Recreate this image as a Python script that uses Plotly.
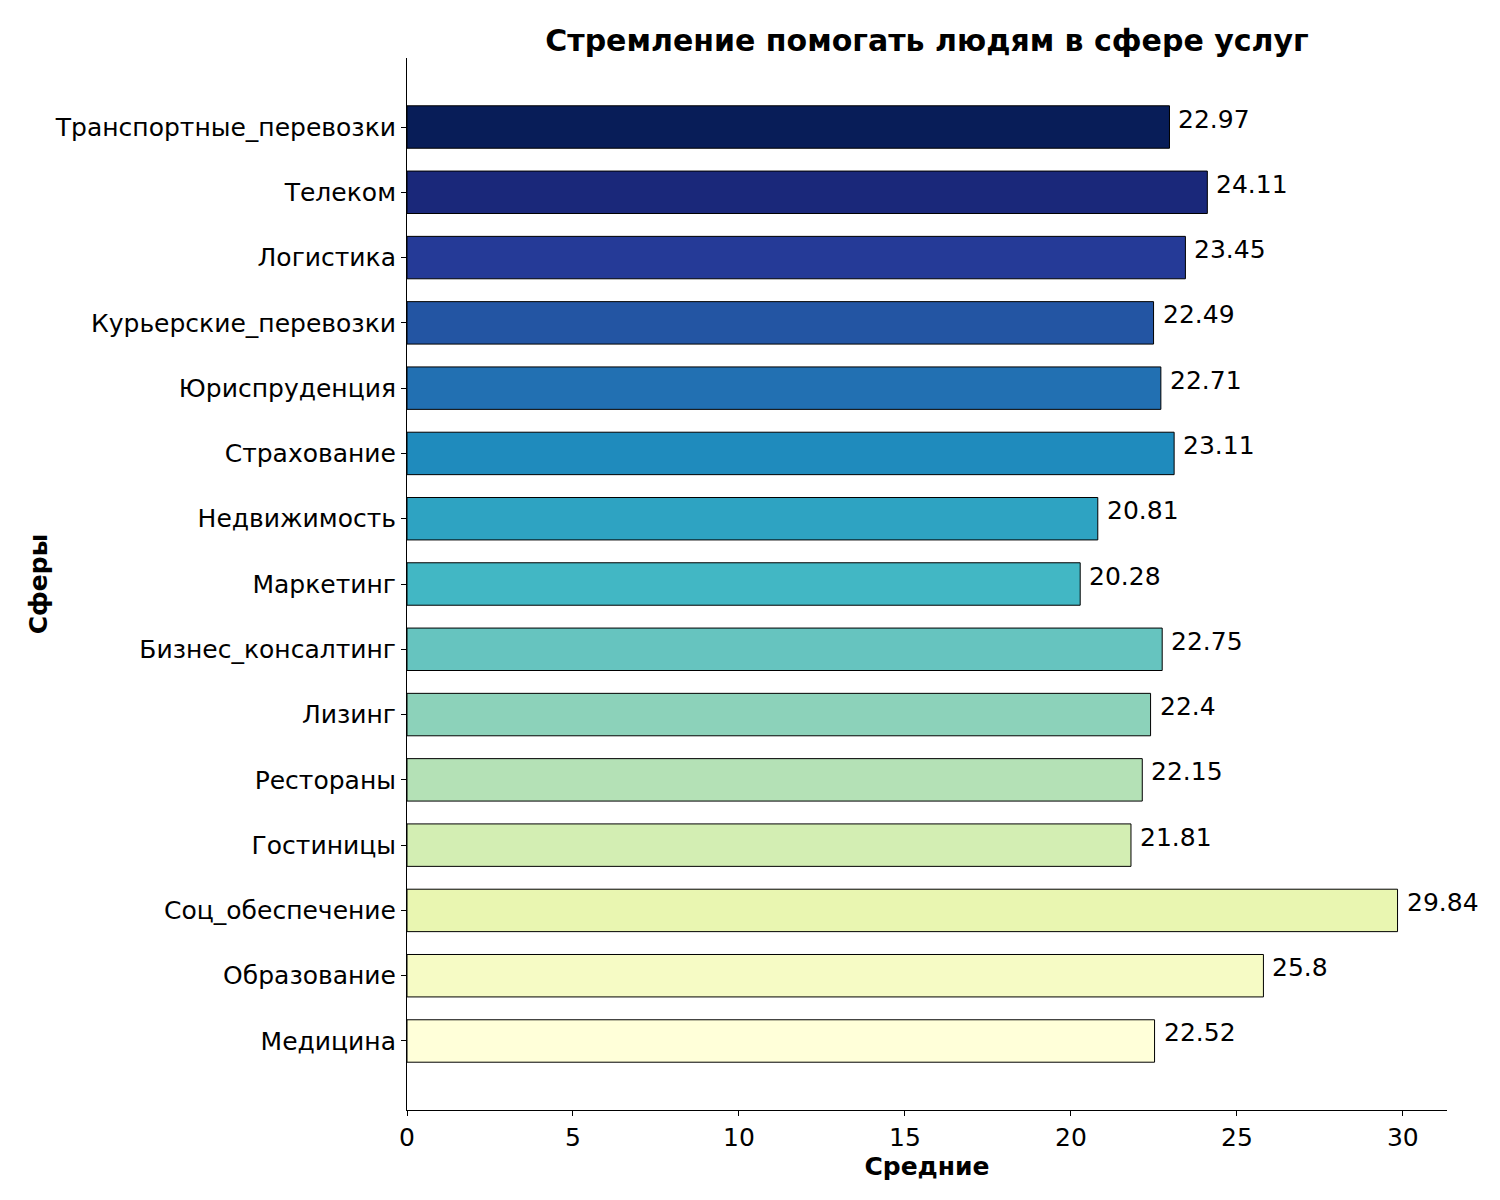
import plotly.graph_objects as go

# data (bottom -> top, as drawn)
spheres = ['Медицина', 'Образование', 'Соц_обеспечение', 'Гостиницы', 'Рестораны',
           'Лизинг', 'Бизнес_консалтинг', 'Маркетинг', 'Недвижимость', 'Страхование',
           'Юриспруденция', 'Курьерские_перевозки', 'Логистика', 'Телеком',
           'Транспортные_перевозки']
means = [22.52, 25.8, 29.84, 21.81, 22.15, 22.4, 22.75, 20.28, 20.81, 23.11,
         22.71, 22.49, 23.45, 24.11, 22.97]
labels = ['22.52', '25.8', '29.84', '21.81', '22.15', '22.4', '22.75', '20.28', '20.81',
          '23.11', '22.71', '22.49', '23.45', '24.11', '22.97']

# YlGnBu, light at the bottom -> dark at the top
colors = ['#ffffd9', '#f6fbc5', '#e9f6b1', '#d3eeb3', '#b4e1b6', '#8cd2ba', '#66c4bf',
          '#42b7c4', '#2ea3c2', '#1f8bbd', '#2270b2', '#2355a3', '#253a97', '#1a287a',
          '#081d58']

font = 'DejaVu Sans'

fig = go.Figure(go.Bar(
    x=means, y=spheres, orientation='h', width=0.65,
    marker=dict(color=colors, line=dict(color='black', width=1)),
    hoverinfo='skip'
))

for s, v, t in zip(spheres, means, labels):
    fig.add_annotation(x=v, y=s, text=t, showarrow=False, xanchor='left', yanchor='middle',
                       xshift=7, yshift=8, font=dict(family=font, size=25, color='black'))

fig.update_layout(
    width=1484, height=1184,
    margin=dict(l=399, r=45, t=50, b=82),
    plot_bgcolor='white', paper_bgcolor='white',
    showlegend=False,
    font=dict(family=font, size=25, color='black'),
    title=dict(text='<b>Стремление помогать людям в сфере услуг</b>', x=0.5, xref='paper',
               xanchor='center', y=1 - 32 / 1184, yref='container', yanchor='middle',
               font=dict(family=font, size=30, color='black')),
    xaxis=dict(range=[0, 31.33], tickvals=[0, 5, 10, 15, 20, 25, 30], showgrid=False,
               zeroline=False, showline=True, linecolor='black', linewidth=1,
               ticks='outside', ticklen=5, tickcolor='black',
               title=dict(text='<b>Средние</b>', standoff=0, font=dict(size=25))),
    yaxis=dict(range=[-1.057, 15 - 1 + 1.057], showgrid=False, zeroline=False,
               showline=True, linecolor='black', linewidth=1,
               ticks='outside', ticklen=5, tickcolor='black',
               categoryorder='array', categoryarray=spheres,
               title=dict(text='<b>Сферы</b>', standoff=0, font=dict(size=25))),
)

fig.write_html('out.html')
